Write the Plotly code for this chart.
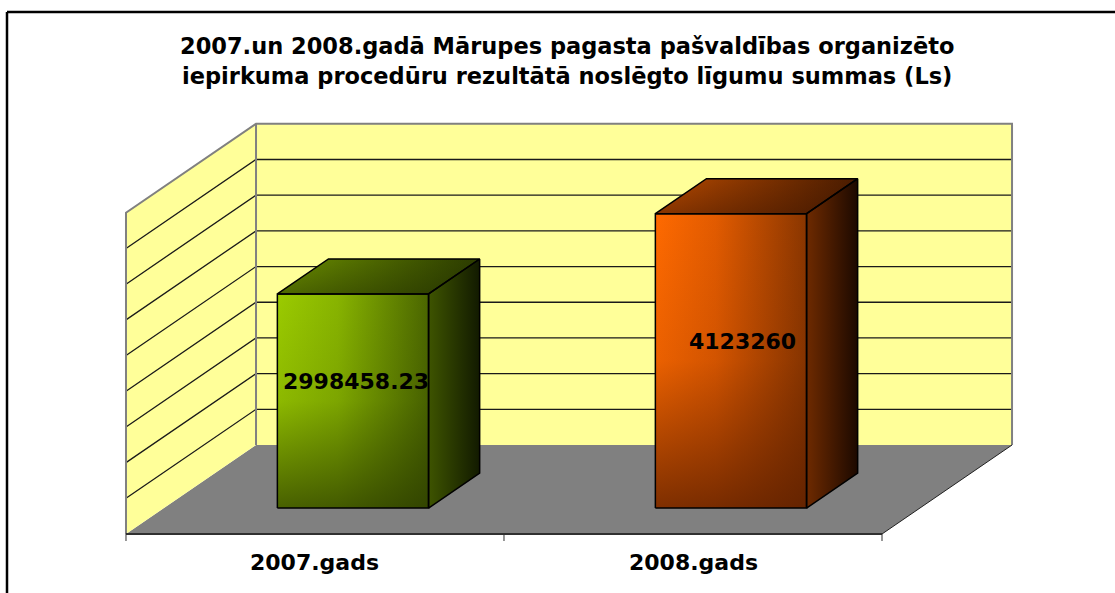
import plotly.graph_objects as go

# ---------------- data ----------------
categories = ["2007.gads", "2008.gads"]
values = [2998458.23, 4123260]
grid_values = [500000, 1000000, 1500000, 2000000, 2500000, 3000000, 3500000, 4000000]
axis_max = 4500000
title_lines = [
    "2007.un 2008.gadā Mārupes pagasta pašvaldības organizēto",
    "iepirkuma procedūru rezultātā noslēgto līgumu summas (Ls)",
]

# ---------------- geometry / style ----------------
W, H = 1115, 593
X_RANGE = [-0.3333, 2.6164]          # category units
Y_RANGE = [-826500, 7481000]         # value units
PX_PER_V = H / (Y_RANGE[1] - Y_RANGE[0])
DX = 0.344                           # depth offset (category units)
DY = 89 / PX_PER_V                   # depth offset (value units)
Z0, ZD = 0.292, 0.393                # bar front depth and bar depth
BAR_W = 0.40
LABEL_XSHIFT = [3, 12]
FONT = "DejaVu Sans"

def proj(x, z, v):
    return x + z * DX, v + z * DY

def poly(pts):
    xs, ys = zip(*[proj(*p) for p in pts])
    return list(xs) + [xs[0]], list(ys) + [ys[0]]

fig = go.Figure()

def add_fill(pts, fill=None, grad=None):
    xs, ys = poly(pts)
    kw = dict(x=xs, y=ys, mode="lines", fill="toself", hoverinfo="skip",
              showlegend=False, line=dict(width=0, color="rgba(0,0,0,0)"))
    if fill:
        kw["fillcolor"] = fill
    if grad:
        kw["fillgradient"] = grad
    fig.add_trace(go.Scatter(**kw))

def add_line(pts, color, width, closed=False):
    xs, ys = zip(*[proj(*p) for p in pts])
    xs, ys = list(xs), list(ys)
    if closed:
        xs.append(xs[0]); ys.append(ys[0])
    fig.add_trace(go.Scatter(x=xs, y=ys, mode="lines", hoverinfo="skip", showlegend=False,
                             line=dict(color=color, width=width)))

ncat = len(categories)
WALL = "#FFFF99"
WALL_EDGE = "#808080"

# floor
add_fill([(0, 0, 0), (ncat, 0, 0), (ncat, 1, 0), (0, 1, 0)], fill="#808080")
# left wall
add_fill([(0, 0, 0), (0, 0, axis_max), (0, 1, axis_max), (0, 1, 0)], fill=WALL)
# back wall
add_fill([(0, 1, 0), (0, 1, axis_max), (ncat, 1, axis_max), (ncat, 1, 0)], fill=WALL)

# gridlines
for g in grid_values:
    add_line([(0, 0, g), (0, 1, g), (ncat, 1, g)], "#1a1a1a", 1.3)

# wall edges
add_line([(0, 0, 0), (0, 0, axis_max), (0, 1, axis_max), (ncat, 1, axis_max), (ncat, 1, 0)], WALL_EDGE, 2)
add_line([(0, 1, 0), (0, 1, axis_max)], WALL_EDGE, 2)
# floor right edge
add_line([(ncat, 0, 0), (ncat, 1, 0)], "#202020", 1)

# ---------------- bars ----------------
bar_styles = [
    dict(front=[[0, "#9BCB00"], [0.4, "#88B400"], [1, "#4B6600"]],
         front_shade=[[0, "rgba(40,55,0,0.72)"], [0.5, "rgba(40,55,0,0.12)"], [1, "rgba(40,55,0,0)"]],
         side=[[0, "#3E5400"], [1, "#121A00"]],
         top=[[0, "#6C8F00"], [1, "#2C3C00"]],
         top_shade=[[0, "rgba(25,35,0,0.35)"], [1, "rgba(25,35,0,0)"]]),
    dict(front=[[0, "#FF6A00"], [0.4, "#E25B00"], [1, "#8A3600"]],
         front_shade=[[0, "rgba(90,30,0,0.78)"], [0.5, "rgba(90,30,0,0.12)"], [1, "rgba(90,30,0,0)"]],
         side=[[0, "#6E2A00"], [1, "#1C0900"]],
         top=[[0, "#B84A00"], [1, "#4A1C00"]],
         top_shade=[[0, "rgba(50,15,0,0.35)"], [1, "rgba(50,15,0,0)"]]),
]

for i, v in enumerate(values):
    st = bar_styles[i]
    xl, xr = i + 0.5 - BAR_W / 2, i + 0.5 + BAR_W / 2
    z0, z1 = Z0, Z0 + ZD
    side = [(xr, z0, 0), (xr, z1, 0), (xr, z1, v), (xr, z0, v)]
    top = [(xl, z0, v), (xr, z0, v), (xr, z1, v), (xl, z1, v)]
    front = [(xl, z0, 0), (xr, z0, 0), (xr, z0, v), (xl, z0, v)]
    add_fill(side, grad=dict(type="horizontal", colorscale=st["side"]))
    add_fill(top, grad=dict(type="horizontal", colorscale=st["top"]))
    add_fill(top, grad=dict(type="vertical", colorscale=st["top_shade"]))
    add_fill(front, grad=dict(type="horizontal", colorscale=st["front"]))
    add_fill(front, grad=dict(type="vertical", colorscale=st["front_shade"]))
    for pts in (side, top, front):
        add_line(pts, "black", 1.5, closed=True)

    # value label
    _, ly = proj(i + 0.5, Z0 + 0.55 * ZD, v / 2)
    fx, _ = proj(i + 0.5, Z0, 0)
    label = f"{v:.2f}".rstrip("0").rstrip(".")
    fig.add_annotation(x=fx, y=ly, text=f"<b>{label}</b>", showarrow=False,
                       xanchor="center", yanchor="middle", xshift=LABEL_XSHIFT[i],
                       font=dict(family=FONT, size=22, color="black"))

# ---------------- category axis ----------------
add_line([(0, 0, 0), (ncat, 0, 0)], "#303030", 2)
tick_len = 7 / PX_PER_V
for k in range(ncat + 1):
    fig.add_trace(go.Scatter(x=[k, k], y=[0, -tick_len], mode="lines", hoverinfo="skip",
                             showlegend=False, line=dict(color="#303030", width=1)))
for i, c in enumerate(categories):
    fig.add_annotation(x=i + 0.5, y=0, text=f"<b>{c}</b>", showarrow=False,
                       xanchor="center", yanchor="middle", yshift=-28,
                       font=dict(family=FONT, size=22, color="black"))

# ---------------- title ----------------
for j, t in enumerate(title_lines):
    fig.add_annotation(x=567 / W, y=1 - (46 + 30 * j) / H, xref="paper", yref="paper",
                       text=f"<b>{t}</b>", showarrow=False, xanchor="center", yanchor="middle",
                       font=dict(family=FONT, size=22.5, color="black"))

# chart border: only left and top edges are inside the visible area
bx, by = 7 / W, 1 - 12 / H
fig.add_shape(type="line", xref="paper", yref="paper", x0=bx, x1=bx, y0=0, y1=by,
              line=dict(color="black", width=2.5), layer="above")
fig.add_shape(type="line", xref="paper", yref="paper", x0=bx, x1=1, y0=by, y1=by,
              line=dict(color="black", width=2.5), layer="above")

fig.update_layout(
    width=W, height=H, autosize=False,
    margin=dict(l=0, r=0, t=0, b=0, pad=0),
    paper_bgcolor="white", plot_bgcolor="white",
    xaxis=dict(range=X_RANGE, visible=False, fixedrange=True),
    yaxis=dict(range=Y_RANGE, visible=False, fixedrange=True),
    showlegend=False,
)

fig.write_html(
    "out.html",
    config={"displayModeBar": False},
    post_script=("document.body.style.margin='0';document.body.style.overflow='hidden';"
                 "document.documentElement.style.overflow='hidden';"
                 "document.body.style.background='white';"),
)
